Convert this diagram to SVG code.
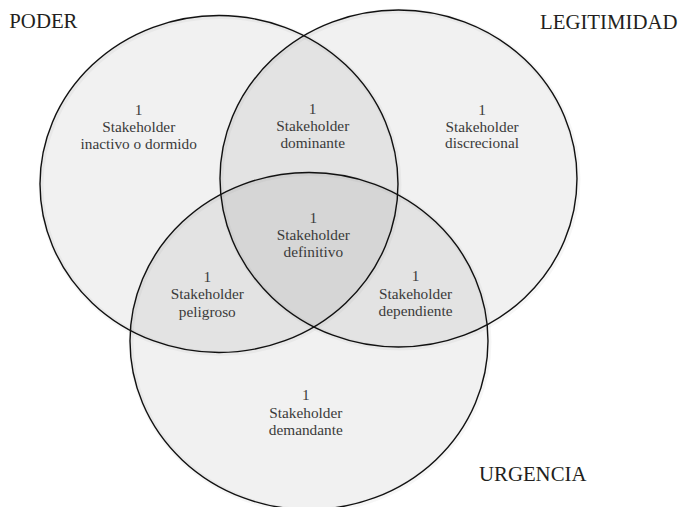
<svg xmlns="http://www.w3.org/2000/svg" width="683" height="507" viewBox="0 0 683 507">
<style>
.c{fill:rgb(10,25,25);fill-opacity:0.057;stroke:#111;stroke-width:1.4}
.sh{fill:none;stroke:#000;stroke-opacity:0.035;stroke-width:5}
.t{font-family:"Liberation Serif","Times New Roman",serif;font-size:15.3px;fill:#3a3a3a;text-anchor:middle}
.l{font-family:"Liberation Serif","Times New Roman",serif;font-size:20.8px;fill:#231f20}
</style>
<rect width="683" height="507" fill="#fff"/>
<g id="shadows">
<ellipse class="sh" cx="220" cy="185" rx="179" ry="168.5"/>
<ellipse class="sh" cx="399.5" cy="179.5" rx="178.5" ry="168.5"/>
<ellipse class="sh" cx="310" cy="342" rx="179" ry="168.5"/>
</g>
<g id="poder">
<ellipse class="c" cx="219" cy="184" rx="179" ry="168.5"/>
<text class="l" x="9.3" y="28.3">PODER</text>
</g>
<g id="legitimidad">
<ellipse class="c" cx="398.5" cy="178.5" rx="178.5" ry="168.5"/>
<text class="l" x="540" y="29">LEGITIMIDAD</text>
</g>
<g id="urgencia">
<ellipse class="c" cx="309" cy="341" rx="179" ry="168.5"/>
<text class="l" x="479" y="481">URGENCIA</text>
</g>
<g id="connectors"></g>
<g id="inactivo">
<text class="t" x="138.7" y="114.5">1</text>
<text class="t" x="138.7" y="131.7">Stakeholder</text>
<text class="t" x="138.7" y="149.2">inactivo o dormido</text>
</g>
<g id="dominante">
<text class="t" x="312.7" y="114">1</text>
<text class="t" x="312.7" y="130.7">Stakeholder</text>
<text class="t" x="312.7" y="147.5">dominante</text>
</g>
<g id="discrecional">
<text class="t" x="482" y="114.5">1</text>
<text class="t" x="482" y="131.7">Stakeholder</text>
<text class="t" x="482" y="148.3">discrecional</text>
</g>
<g id="definitivo">
<text class="t" x="313.3" y="222.7">1</text>
<text class="t" x="313.3" y="240">Stakeholder</text>
<text class="t" x="313.3" y="257.3">definitivo</text>
</g>
<g id="peligroso">
<text class="t" x="207.3" y="281.7">1</text>
<text class="t" x="207.3" y="299">Stakeholder</text>
<text class="t" x="207.3" y="316.5">peligroso</text>
</g>
<g id="dependiente">
<text class="t" x="415.5" y="280.7">1</text>
<text class="t" x="415.5" y="299">Stakeholder</text>
<text class="t" x="415.5" y="315.7">dependiente</text>
</g>
<g id="demandante">
<text class="t" x="305.8" y="400">1</text>
<text class="t" x="305.8" y="418.3">Stakeholder</text>
<text class="t" x="305.8" y="435">demandante</text>
</g>
</svg>
